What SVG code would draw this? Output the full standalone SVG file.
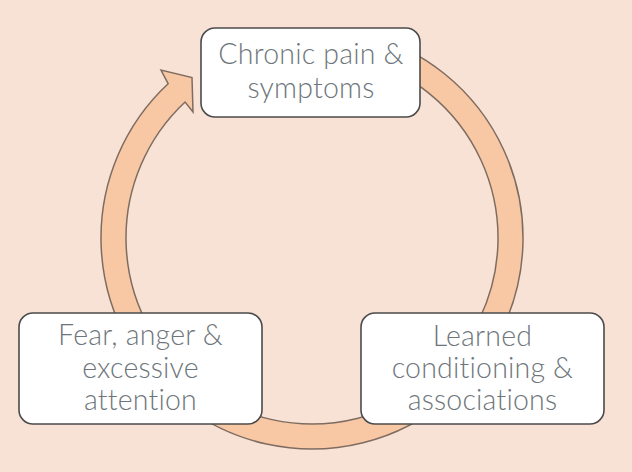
<svg xmlns="http://www.w3.org/2000/svg" width="632" height="472" viewBox="0 0 632 472">
<style>
.bg{fill:#f8e2d6}
.ring{fill:#f8c8a5;stroke:#7f6c60;stroke-width:1.5;stroke-linejoin:miter}
.box{fill:#ffffff;stroke:#4b4b4b;stroke-width:1.6}
.lbl{font-family:Lato,"Open Sans","Liberation Sans",sans-serif;font-weight:300;font-size:28.5px;letter-spacing:0.2px;fill:#6e767b;text-anchor:middle}
</style>
<rect class="bg" x="0" y="0" width="632" height="472"/>
<g id="connectors">
<path class="ring" d="M366.6,34.2 A211,211 0 1 1 168.1,83.7 L161,70 L192,77.5 L193,112 L185.1,102 A186,186 0 1 0 360.1,58.3 Z"/>
</g>
<g id="node-top">
<rect class="box" x="201" y="28" width="219" height="89" rx="14"/>
<text class="lbl" x="311" y="64">Chronic pain &amp;</text>
<text class="lbl" x="311" y="97.5">symptoms</text>
</g>
<g id="node-left">
<rect class="box" x="19" y="313" width="243" height="111" rx="14"/>
<text class="lbl" x="140.5" y="345">Fear, anger &amp;</text>
<text class="lbl" x="140.5" y="378">excessive</text>
<text class="lbl" x="140.5" y="410">attention</text>
</g>
<g id="node-right">
<rect class="box" x="361" y="313" width="243" height="111" rx="14"/>
<text class="lbl" x="482.5" y="346">Learned</text>
<text class="lbl" x="482.5" y="378">conditioning &amp;</text>
<text class="lbl" x="482.5" y="410">associations</text>
</g>
</svg>
